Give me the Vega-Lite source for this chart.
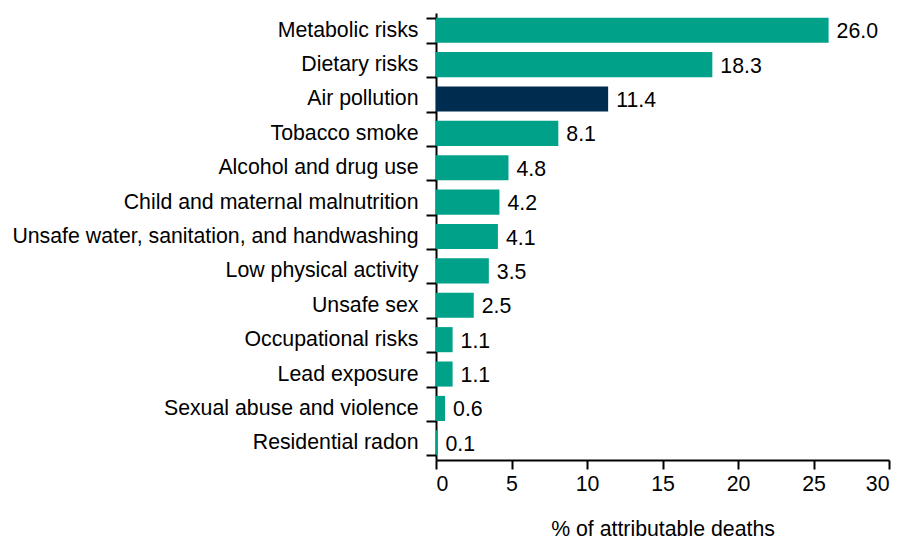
{
  "$schema": "https://vega.github.io/schema/vega-lite/v6.json",
  "autosize": "none",
  "padding": {"left": 436, "top": 13, "right": 13, "bottom": 83},
  "width": 453,
  "height": 447,
  "background": "white",
  "config": {
    "view": {"stroke": null},
    "font": "Liberation Sans",
    "axis": {"labelFont": "Liberation Sans", "titleFont": "Liberation Sans", "labelColor": "black", "titleColor": "black", "domainColor": "black", "tickColor": "black", "grid": false}
  },
  "data": {
    "values": [
      {"risk": "Metabolic risks", "value": 26.0, "label": "26.0", "group": "other"},
      {"risk": "Dietary risks", "value": 18.3, "label": "18.3", "group": "other"},
      {"risk": "Air pollution", "value": 11.4, "label": "11.4", "group": "air"},
      {"risk": "Tobacco smoke", "value": 8.1, "label": "8.1", "group": "other"},
      {"risk": "Alcohol and drug use", "value": 4.8, "label": "4.8", "group": "other"},
      {"risk": "Child and maternal malnutrition", "value": 4.2, "label": "4.2", "group": "other"},
      {"risk": "Unsafe water, sanitation, and handwashing", "value": 4.1, "label": "4.1", "group": "other"},
      {"risk": "Low physical activity", "value": 3.5, "label": "3.5", "group": "other"},
      {"risk": "Unsafe sex", "value": 2.5, "label": "2.5", "group": "other"},
      {"risk": "Occupational risks", "value": 1.1, "label": "1.1", "group": "other"},
      {"risk": "Lead exposure", "value": 1.1, "label": "1.1", "group": "other"},
      {"risk": "Sexual abuse and violence", "value": 0.6, "label": "0.6", "group": "other"},
      {"risk": "Residential radon", "value": 0.1, "label": "0.1", "group": "other"}
    ]
  },
  "encoding": {
    "y": {
      "field": "risk", "type": "nominal", "sort": null,
      "scale": {"paddingInner": 0.27, "paddingOuter": 0.135},
      "axis": {"title": null, "tickBand": "extent", "tickSize": 10, "tickWidth": 2, "domainWidth": 2, "labelPadding": 8, "labelFontSize": 21.3, "labelLimit": 0}
    },
    "x": {
      "field": "value", "type": "quantitative",
      "scale": {"domain": [0, 30], "nice": false},
      "axis": {"title": "% of attributable deaths", "values": [0, 5, 10, 15, 20, 25, 30], "tickSize": 9, "tickWidth": 2, "domainWidth": 2, "labelFontSize": 21.3, "labelPadding": 4, "titleFontSize": 21.3, "titleFontWeight": "normal", "titlePadding": 24}
    }
  },
  "layer": [
    {
      "mark": {"type": "bar"},
      "encoding": {
        "color": {"field": "group", "type": "nominal", "scale": {"domain": ["other", "air"], "range": ["#00A189", "#002D4F"]}, "legend": null}
      }
    },
    {
      "mark": {"type": "text", "align": "left", "baseline": "middle", "dx": 8, "dy": 2, "fontSize": 21.3, "color": "black"},
      "encoding": {"text": {"field": "label"}}
    }
  ]
}
